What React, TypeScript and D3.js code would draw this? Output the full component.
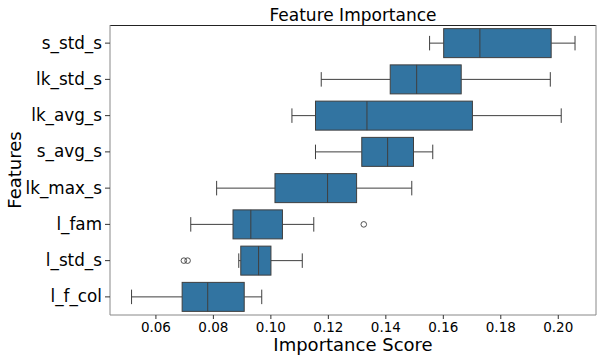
import React from 'react';
import * as d3 from 'd3';

// feature names, top to bottom
const features = ['s_std_s', 'lk_std_s', 'lk_avg_s', 's_avg_s', 'lk_max_s', 'l_fam', 'l_std_s', 'l_f_col'];
// box stats
const whiskerLow = [0.1554, 0.1177, 0.1075, 0.1157, 0.0813, 0.0723, 0.089, 0.0517];
const q1 = [0.1603, 0.1417, 0.1157, 0.1318, 0.1016, 0.087, 0.0897, 0.0693];
const median = [0.1729, 0.1509, 0.1336, 0.1408, 0.1199, 0.0932, 0.0959, 0.0782];
const q3 = [0.1977, 0.1664, 0.1703, 0.1498, 0.13, 0.1042, 0.1002, 0.0909];
const whiskerHigh = [0.206, 0.1974, 0.2012, 0.1565, 0.1492, 0.1151, 0.1111, 0.097];
const outliers = [[], [], [], [], [], [0.1325], [0.0699, 0.0712], []];
const xTicks = [0.06, 0.08, 0.1, 0.12, 0.14, 0.16, 0.18, 0.2];

const W = 602;
const H = 360;
const margin = { top: 25, right: 6, bottom: 45, left: 110 };

const App = () => {
  const ref = React.useRef<SVGSVGElement>(null);

  React.useEffect(() => {
    const svg = d3.select(ref.current);
    svg.selectAll('*').remove();

    const width = W - margin.left - margin.right;
    const height = H - margin.top - margin.bottom;
    const font = 'DejaVu Sans, sans-serif';

    const x = d3.scaleLinear().domain([0.0442, 0.2133]).range([0, width]);
    const y = d3.scaleBand().domain(features).range([0, height]).padding(0);
    const bw = y.bandwidth() * 0.8;

    const g = svg.append('g').attr('transform', `translate(${margin.left},${margin.top})`);

    const rows = features.map((f, i) => ({
      f, lo: whiskerLow[i], q1: q1[i], med: median[i], q3: q3[i], hi: whiskerHigh[i], out: outliers[i],
    }));

    const edge = '#3f3f3f';
    const row = g.selectAll('g.row').data(rows).join('g')
      .attr('class', 'row')
      .attr('transform', (d) => `translate(0,${(y(d.f) as number) + y.bandwidth() / 2})`);

    // whiskers
    row.append('line').attr('x1', (d) => x(d.lo)).attr('x2', (d) => x(d.q1))
      .attr('stroke', edge).attr('stroke-width', 1);
    row.append('line').attr('x1', (d) => x(d.q3)).attr('x2', (d) => x(d.hi))
      .attr('stroke', edge).attr('stroke-width', 1);
    // caps
    row.append('line').attr('x1', (d) => x(d.lo)).attr('x2', (d) => x(d.lo))
      .attr('y1', -bw / 4).attr('y2', bw / 4).attr('stroke', edge);
    row.append('line').attr('x1', (d) => x(d.hi)).attr('x2', (d) => x(d.hi))
      .attr('y1', -bw / 4).attr('y2', bw / 4).attr('stroke', edge);
    // box
    row.append('rect')
      .attr('x', (d) => x(d.q1)).attr('width', (d) => x(d.q3) - x(d.q1))
      .attr('y', -bw / 2).attr('height', bw)
      .attr('fill', '#3274a1').attr('stroke', edge).attr('stroke-width', 1);
    // median
    row.append('line').attr('x1', (d) => x(d.med)).attr('x2', (d) => x(d.med))
      .attr('y1', -bw / 2).attr('y2', bw / 2).attr('stroke', edge).attr('stroke-width', 1);
    // outliers
    row.selectAll('circle').data((d) => d.out).join('circle')
      .attr('cx', (d) => x(d)).attr('cy', 0).attr('r', 2.8)
      .attr('fill', 'none').attr('stroke', edge).attr('stroke-width', 0.9);

    // spines
    g.append('line').attr('x1', 0).attr('x2', width).attr('y1', 0.5).attr('y2', 0.5).attr('stroke', '#222');
    g.append('line').attr('x1', 0).attr('x2', width).attr('y1', height).attr('y2', height).attr('stroke', '#888');
    g.append('line').attr('x1', 0).attr('x2', 0).attr('y1', 0).attr('y2', height).attr('stroke', '#888');
    g.append('line').attr('x1', width).attr('x2', width).attr('y1', 0).attr('y2', height).attr('stroke', '#888');

    // x axis
    const xa = g.append('g').attr('transform', `translate(0,${height})`)
      .call(d3.axisBottom(x).tickValues(xTicks).tickFormat(d3.format('.2f')).tickSize(4).tickPadding(3));
    xa.select('.domain').remove();
    xa.selectAll('line').attr('stroke', '#333');
    xa.selectAll('text').attr('font-family', font).attr('font-size', 13.5).attr('fill', '#000');

    // y axis
    const ya = g.append('g')
      .call(d3.axisLeft(y).tickSize(5).tickPadding(3));
    ya.select('.domain').remove();
    ya.selectAll('line').attr('stroke', '#333');
    ya.selectAll('text').attr('font-family', font).attr('font-size', 16.8).attr('fill', '#000');

    // title & labels
    svg.append('text').attr('x', margin.left + width / 2).attr('y', 21)
      .attr('text-anchor', 'middle').attr('font-family', font).attr('font-size', 17)
      .text('Feature Importance');
    svg.append('text').attr('x', margin.left + width / 2).attr('y', 351)
      .attr('text-anchor', 'middle').attr('font-family', font).attr('font-size', 18)
      .text('Importance Score');
    svg.append('text')
      .attr('transform', `translate(21,${margin.top + height / 2}) rotate(-90)`)
      .attr('text-anchor', 'middle').attr('font-family', font).attr('font-size', 18)
      .text('Features');
  }, []);

  return (
    <div style={{ position: 'absolute', left: 0, top: 0 }}>
      <svg ref={ref} width={W} height={H} style={{ display: 'block', background: '#fff' }} />
    </div>
  );
};

export default App;
